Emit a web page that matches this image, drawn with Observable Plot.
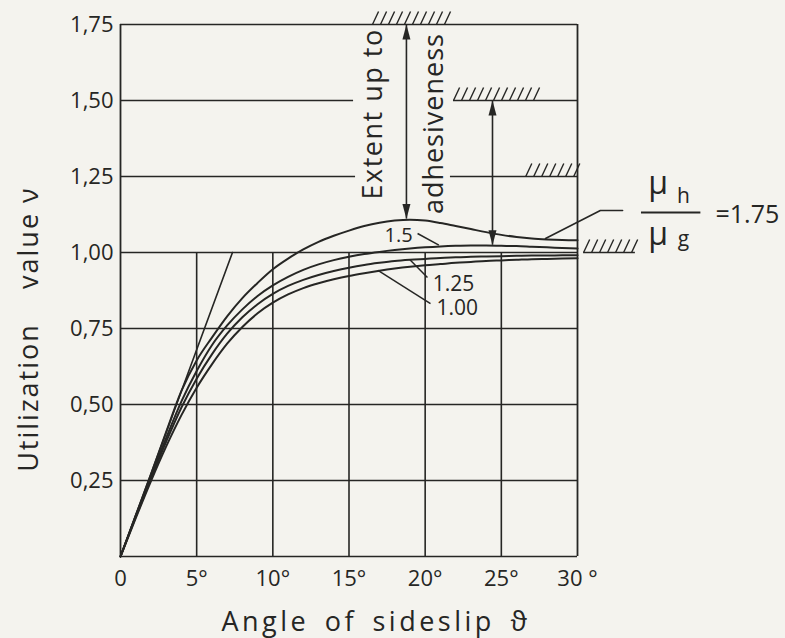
<!DOCTYPE html>
<html><head><meta charset="utf-8">
<script src="https://cdn.jsdelivr.net/npm/d3@7"></script>
<script src="https://cdn.jsdelivr.net/npm/@observablehq/plot@0.6"></script>
<style>html,body{margin:0;padding:0;background:#f4f3ee;overflow:hidden}</style>
</head><body><div id="chart"></div>
<script>
// ---- data ----
const angle = [0,1,2,3,4,5,6,7,8,9,10,11,12,13,14,15,16,17,18,19,20,21,22,23,24,25,26,27,28,29,30];
const nu175 = [0,0.135,0.27,0.41,0.545,0.645,0.72,0.79,0.85,0.90,0.945,0.98,1.01,1.035,1.055,1.072,1.087,1.098,1.105,1.108,1.105,1.097,1.087,1.077,1.067,1.058,1.051,1.046,1.043,1.041,1.04];
const nu150 = [0,0.133,0.262,0.39,0.51,0.61,0.695,0.76,0.813,0.857,0.892,0.92,0.943,0.961,0.975,0.986,0.995,1.002,1.008,1.013,1.017,1.02,1.022,1.023,1.023,1.022,1.021,1.019,1.017,1.015,1.013];
const nu125 = [0,0.13,0.256,0.378,0.49,0.585,0.665,0.733,0.787,0.83,0.864,0.89,0.91,0.926,0.939,0.95,0.959,0.966,0.972,0.976,0.979,0.982,0.984,0.986,0.987,0.988,0.989,0.99,0.99,0.991,0.991];
const nu100 = [0,0.126,0.248,0.362,0.465,0.555,0.632,0.70,0.755,0.80,0.835,0.862,0.883,0.899,0.912,0.923,0.932,0.94,0.947,0.953,0.958,0.962,0.966,0.969,0.972,0.974,0.976,0.978,0.979,0.98,0.981];
const seriesNames = ["1.75","1.5","1.25","1.00"];
const seriesValues = [nu175, nu150, nu125, nu100];

const tangentAngle = [0, 7.35];
const tangentNu = [0, 1.0];

const xTicks = [0,5,10,15,20,25,30];
const xTickLabels = ["0","5°","10°","15°","20°","25°","30 °"];
const yTicks = [0.25,0.5,0.75,1.0,1.25,1.5,1.75];
const yTickLabels = ["0,25","0,50","0,75","1,00","1,25","1,50","1,75"];

// grid (partial lines as in the drawing)
const gridV = [5,10,15,20,25];
const gridVTop = 1.0;
const gridH = [
  {y:0.25,x1:0,x2:30},{y:0.5,x1:0,x2:30},{y:0.75,x1:0,x2:30},{y:1.0,x1:0,x2:30},
  {y:1.25,x1:0,x2:15.43},{y:1.25,x1:21.66,x2:30},
  {y:1.5,x1:0,x2:15.3},{y:1.5,x1:21.86,x2:30},
  {y:1.75,x1:0,x2:30},{y:0,x1:0,x2:30},
  {y:1.0,x1:30.4,x2:33.8}
];
const frameX = [0,30];

// adhesion limits (hatched)
const hatchZones = [
  {y:1.75, from:16.54, to:21.86},
  {y:1.5, from:21.86, to:27.37},
  {y:1.25, from:26.6, to:30},
  {y:1.0, from:30.4, to:33.8}
];

// double arrows: curve -> adhesion limit
const arrows = [
  {x:18.77, bottom:1.11, top:1.75},
  {x:24.42, bottom:1.024, top:1.5}
];

// labels
const curveLabels = [
  {text:"1.5", x:18.25, y:1.056, size:20},
  {text:"1.25", x:21.86, y:0.897, size:21},
  {text:"1.00", x:22.1, y:0.815, size:21}
];
const leaders = [
  {x1:19.5, y1:1.0625, x2:20.9, y2:1.024},
  {x1:19.0, y1:0.976, x2:20.15, y2:0.918},
  {x1:16.9, y1:0.941, x2:20.35, y2:0.832}
];
const leader175 = [{x:27.9,y:1.046},{x:31.5,y:1.138},{x:32.96,y:1.138}];

const verticalTexts = [
  {text:"Extent up to", x:16.63, y:1.456},
  {text:"adhesiveness", x:20.6, y:1.424}
];
const fraction = [
  {text:"μ", x:35.3, y:1.227, size:32},
  {text:"h", x:36.96, y:1.186, size:21},
  {text:"μ", x:35.3, y:1.059, size:32},
  {text:"g", x:36.96, y:1.044, size:21}
];
const fractionBar = [{y:1.1316, x1:34.2, x2:38.1}];
const ratioValue = [{text:"=1.75", x:39.06, y:1.125}];

const xTitle = [{text:"Angle of sideslip ϑ", x:16.77, y:-0.215}];
const yTitle = [
  {text:"Utilization", x:-6.01, y:0.523},
  {text:"value ν", x:-6.01, y:1.049}
];

// ---- derived tables ----
const curves = seriesNames.flatMap((s,j) => angle.map((a,i) => ({series:s, angle:a, nu:seriesValues[j][i]})));
const tangent = tangentAngle.map((a,i) => ({angle:a, nu:tangentNu[i]}));
const hatchStep = 0.525, hatchDx = 0.40, hatchDy = 0.043;
const hatches = hatchZones.flatMap(z => {
  const out = [];
  for (let x = z.from; x <= z.to - hatchDx*0.6; x += hatchStep) out.push({x1:x, y1:z.y, x2:x+hatchDx, y2:z.y+hatchDy});
  return out;
});

const ink = "#262624";
const headUp = {draw(ctx){ ctx.moveTo(0,0); ctx.lineTo(-4,15); ctx.lineTo(4,15); ctx.closePath(); }};

const chart = Plot.plot({
  width: 785, height: 638,
  marginLeft: 120, marginRight: 208, marginTop: 24, marginBottom: 82,
  x: {domain:[0,30]},
  y: {domain:[0,1.75]},
  style: {fontFamily:"'Open Sans', sans-serif", fontSize:"22px", color:ink, background:"#f4f3ee"},
  marks: [
    Plot.ruleY(gridH, {y:"y", x1:"x1", x2:"x2", stroke:ink, strokeWidth:1.6}),
    Plot.ruleX(gridV, {x:d=>d, y1:0, y2:gridVTop, stroke:ink, strokeWidth:1.6}),
    Plot.ruleX(frameX, {x:d=>d, y1:0, y2:1.75, stroke:ink, strokeWidth:1.8}),
    Plot.link(hatches, {x1:"x1", y1:"y1", x2:"x2", y2:"y2", stroke:ink, strokeWidth:1.4}),
    Plot.line(tangent, {x:"angle", y:"nu", stroke:ink, strokeWidth:1.6}),
    Plot.line(curves, {x:"angle", y:"nu", z:"series", stroke:ink, strokeWidth:2, curve:"monotone-x"}),
    Plot.ruleX(arrows, {x:"x", y1:"bottom", y2:"top", stroke:ink, strokeWidth:1.6}),
    Plot.dot(arrows, {x:"x", y:"top", symbol:headUp, r:5, fill:ink, stroke:"none"}),
    Plot.dot(arrows, {x:"x", y:"bottom", symbol:headUp, r:5, rotate:180, fill:ink, stroke:"none"}),
    Plot.link(leaders, {x1:"x1", y1:"y1", x2:"x2", y2:"y2", stroke:ink, strokeWidth:1.5}),
    Plot.line(leader175, {x:"x", y:"y", stroke:ink, strokeWidth:1.6}),
    Plot.text(curveLabels, {x:"x", y:"y", text:"text", fontSize:d=>d.size, fill:ink}),
    Plot.text(verticalTexts, {x:"x", y:"y", text:"text", rotate:-90, fontSize:27, fill:ink}),
    Plot.text(fraction, {x:"x", y:"y", text:"text", fontSize:d=>d.size, fill:ink}),
    Plot.ruleY(fractionBar, {y:"y", x1:"x1", x2:"x2", stroke:ink, strokeWidth:1.8}),
    Plot.text(ratioValue, {x:"x", y:"y", text:"text", textAnchor:"start", fontSize:25, fill:ink}),
    Plot.axisX(xTicks, {tickSize:0, tickPadding:14, fontSize:22, tickFormat:d=>xTickLabels[xTicks.indexOf(d)], label:null}),
    Plot.axisY(yTicks, {tickSize:0, tickPadding:7, fontSize:22, tickFormat:d=>yTickLabels[yTicks.indexOf(d)], label:null}),
    Plot.text(xTitle, {x:"x", y:"y", text:"text", fontSize:27, fill:ink}),
    Plot.text(yTitle, {x:"x", y:"y", text:"text", rotate:-90, fontSize:27, fill:ink})
  ]
});
// letter spacing for titles
chart.querySelectorAll("text").forEach(t => {
  const s = t.textContent;
  if (s === "Angle of sideslip ϑ") { t.setAttribute("letter-spacing","3.5"); t.setAttribute("word-spacing","5"); }
  if (s === "Utilization" || s === "value ν") t.setAttribute("letter-spacing","2");
  if (s === "Extent up to") t.setAttribute("letter-spacing","1.5");
  if (s === "adhesiveness") t.setAttribute("letter-spacing","1");
});
document.getElementById("chart").appendChild(chart);
</script>
</body></html>
